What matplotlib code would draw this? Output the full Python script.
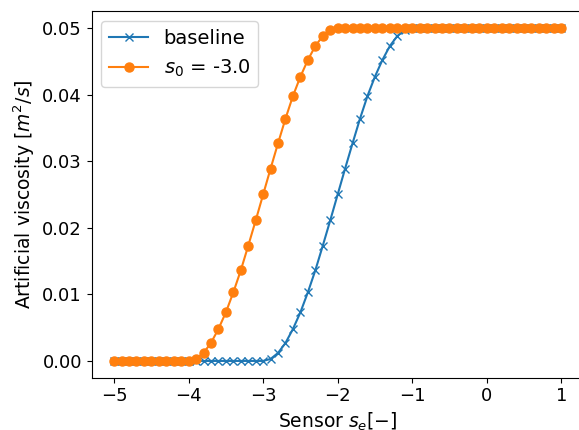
import matplotlib
matplotlib.use("Agg")
import matplotlib.pyplot as plt

# sensor values (x axis)
sensor = [-5.0, -4.9, -4.8, -4.7, -4.6, -4.5, -4.4, -4.3, -4.2, -4.1,
          -4.0, -3.9, -3.8, -3.7, -3.6, -3.5, -3.4, -3.3, -3.2, -3.1,
          -3.0, -2.9, -2.8, -2.7, -2.6, -2.5, -2.4, -2.3, -2.2, -2.1,
          -2.0, -1.9, -1.8, -1.7, -1.6, -1.5, -1.4, -1.3, -1.2, -1.1,
          -1.0, -0.9, -0.8, -0.7, -0.6, -0.5, -0.4, -0.3, -0.2, -0.1,
          0.0, 0.1, 0.2, 0.3, 0.4, 0.5, 0.6, 0.7, 0.8, 0.9, 1.0]

ramp = [0.0003, 0.0012, 0.0027, 0.0048, 0.0073, 0.0103, 0.0136, 0.0173,
        0.0211, 0.025, 0.0289, 0.0327, 0.0364, 0.0398, 0.0427, 0.0452,
        0.0473, 0.0488, 0.0497]

# baseline: flat until -3, ramp, flat at 0.05 from -1
baseline = [0.0] * 21 + ramp + [0.05] * 21
# s0 = -3.0: flat until -4, ramp, flat at 0.05 from -2
shifted = [0.0] * 11 + ramp + [0.05] * 31

fig = plt.figure(figsize=(5.79, 4.30), dpi=100)
ax = fig.add_axes([0.1584, 0.1219, 0.8496, 0.8516])

ax.plot(sensor, baseline, marker='x', color='#1f77b4', markersize=5.5,
        linewidth=1.5, label='baseline')
ax.plot(sensor, shifted, marker='o', color='#ff7f0e', markersize=6.5,
        linewidth=1.5, label='$s_0$ = -3.0')

ax.set_yticks([0.0, 0.01, 0.02, 0.03, 0.04, 0.05])
ax.set_xticks([-5, -4, -3, -2, -1, 0, 1])
ax.tick_params(labelsize=13)
ax.set_xlabel('Sensor $s_e[-]$', fontsize=13.5)
ax.set_ylabel('Artificial viscosity $[m^2/s]$', fontsize=13.5)
ax.legend(loc='upper left', fontsize=14)

fig.savefig('out.png', dpi=100)
